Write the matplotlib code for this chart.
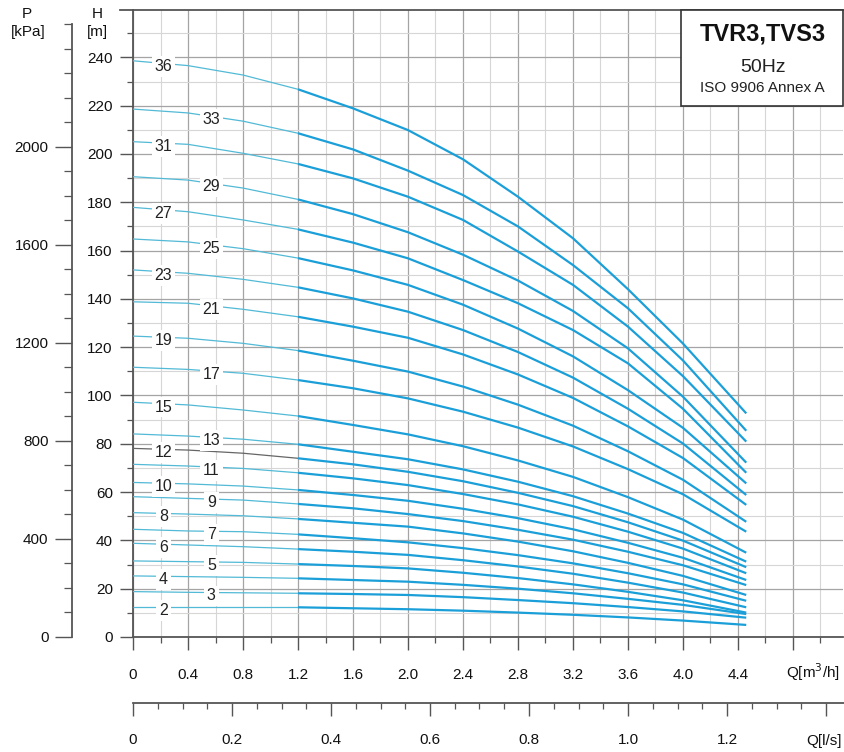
import numpy as np
import matplotlib
matplotlib.use("Agg")
import matplotlib.pyplot as plt
from matplotlib.ticker import MultipleLocator, FixedLocator, FixedFormatter
from matplotlib.patches import Rectangle
from matplotlib.lines import Line2D

plt.rcParams['font.family'] = ['Liberation Sans', 'DejaVu Sans']

# ---------------- data ----------------
flow_m3h = [0, 0.4, 0.8, 1.2, 1.6, 2.0, 2.4, 2.8, 3.2, 3.6, 4.0, 4.46]

head_s36 = [238.6, 236.6, 232.7, 226.8, 218.9, 209.9, 197.8, 182.3, 165.1, 144.0, 121.5, 92.6]
head_s33 = [218.6, 217.0, 213.6, 208.6, 201.9, 193.1, 183.0, 170.0, 154.0, 136.1, 114.5, 85.4]
head_s31 = [205.1, 204.0, 200.3, 195.9, 189.9, 182.3, 172.7, 159.6, 145.8, 128.5, 108.0, 80.9]
head_s29 = [190.6, 189.2, 185.9, 181.2, 175.1, 167.6, 158.3, 147.6, 135.0, 119.5, 99.5, 72.2]
head_s27 = [177.9, 176.1, 172.7, 168.8, 163.3, 156.8, 147.8, 138.2, 127.1, 113.3, 94.5, 68.0]
head_s25 = [164.8, 163.6, 160.8, 156.9, 151.8, 145.8, 137.6, 127.7, 116.2, 102.2, 86.6, 63.6]
head_s23 = [152.0, 150.6, 148.1, 144.8, 140.2, 134.7, 127.1, 118.0, 107.4, 94.5, 80.1, 58.8]
head_s21 = [138.8, 138.2, 135.7, 132.6, 128.5, 123.9, 117.0, 108.7, 99.0, 87.2, 74.1, 54.7]
head_s19 = [124.6, 123.7, 121.6, 118.6, 114.4, 109.9, 103.7, 96.2, 87.5, 76.9, 65.1, 47.7]
head_s17 = [111.7, 110.8, 109.2, 106.4, 103.0, 98.8, 93.3, 86.7, 78.9, 69.5, 59.1, 43.6]
head_s15 = [97.2, 96.1, 94.0, 91.5, 87.8, 83.9, 79.0, 73.1, 66.3, 57.9, 48.6, 34.9]
head_s13 = [84.1, 83.2, 81.9, 79.8, 76.7, 73.6, 69.4, 64.3, 58.3, 51.1, 43.1, 31.2]
head_s12 = [78.1, 77.4, 76.1, 74.0, 71.5, 68.4, 64.5, 59.7, 54.2, 47.5, 39.9, 28.9]
head_s11 = [71.5, 70.8, 69.8, 68.0, 65.7, 62.9, 59.2, 54.9, 49.8, 43.6, 36.6, 26.4]
head_s10 = [64.0, 63.4, 62.5, 60.9, 58.8, 56.4, 53.1, 49.2, 44.6, 39.0, 32.8, 23.6]
head_s9 = [58.1, 57.4, 56.7, 55.1, 53.3, 50.9, 48.0, 44.4, 40.3, 35.3, 29.7, 21.5]
head_s8 = [51.5, 50.9, 50.2, 48.9, 47.3, 45.7, 42.9, 39.5, 35.5, 30.7, 25.3, 17.4]
head_s7 = [44.6, 43.9, 43.6, 42.5, 40.9, 39.2, 36.8, 33.9, 30.5, 26.4, 21.8, 15.0]
head_s6 = [38.8, 38.1, 37.4, 36.4, 35.3, 34.0, 31.8, 29.2, 26.2, 22.5, 18.4, 12.3]
head_s5 = [31.5, 31.2, 30.9, 30.2, 29.4, 28.4, 26.6, 24.4, 21.8, 18.7, 15.2, 10.1]
head_s4 = [25.3, 25.0, 24.7, 24.3, 23.6, 22.9, 21.6, 20.0, 18.1, 15.8, 13.3, 9.5]
head_s3 = [18.8, 18.5, 18.3, 18.1, 17.8, 17.4, 16.5, 15.3, 14.0, 12.4, 10.6, 8.0]
head_s2 = [12.3, 12.3, 12.3, 12.3, 11.9, 11.5, 10.9, 10.1, 9.2, 8.1, 6.8, 5.0]

stage_labels = ['36', '33', '31', '29', '27', '25', '23', '21', '19', '17', '15',
                '13', '12', '11', '10', '9', '8', '7', '6', '5', '4', '3', '2']
head_curves = [head_s36, head_s33, head_s31, head_s29, head_s27, head_s25, head_s23,
               head_s21, head_s19, head_s17, head_s15, head_s13, head_s12, head_s11,
               head_s10, head_s9, head_s8, head_s7, head_s6, head_s5, head_s4,
               head_s3, head_s2]

x_tick_labels = ['0', '0.4', '0.8', '1.2', '1.6', '2.0', '2.4', '2.8', '3.2', '3.6', '4.0', '4.4', '']
h_tick_labels = ['0', '20', '40', '60', '80', '100', '120', '140', '160', '180', '200', '220', '240']
p_tick_labels = ['0', '400', '800', '1200', '1600', '2000']
ls_tick_labels = ['0', '0.2', '0.4', '0.6', '0.8', '1.0', '1.2', '']

# ---------------- layout ----------------
W, H = 845, 752
fig = plt.figure(figsize=(W / 100, H / 100), dpi=100)

def fx(px):
    return px / W

def fy(py):
    return 1 - py / H

px_per_q = 137.5
px_per_m = 2.415
x0, y0 = 133, 637
x_right = 843
y_top = 10
xmax = (x_right - x0) / px_per_q
ymax = (y0 - y_top) / px_per_m
fs = 11

ax = fig.add_axes([fx(x0), fy(y0), (x_right - x0) / W, (y0 - y_top) / H])
ax.set_xlim(0, xmax)
ax.set_ylim(0, ymax)

axis_col = '#555555'
ax.spines['right'].set_visible(False)
for s in ['left', 'bottom', 'top']:
    ax.spines[s].set_color(axis_col)
    ax.spines[s].set_linewidth(1.3)

ax.xaxis.set_major_locator(FixedLocator([0.4 * i for i in range(13)]))
ax.xaxis.set_major_formatter(FixedFormatter(x_tick_labels))
ax.xaxis.set_minor_locator(MultipleLocator(0.2))
ax.yaxis.set_major_locator(FixedLocator([20 * i for i in range(13)]))
ax.yaxis.set_major_formatter(FixedFormatter(h_tick_labels))
ax.yaxis.set_minor_locator(MultipleLocator(10))

ax.tick_params(axis='both', which='major', length=9.5, width=1.0, color=axis_col,
               labelsize=fs, labelcolor='#111111')
ax.tick_params(axis='both', which='minor', length=4.5, width=0.9, color=axis_col)
ax.tick_params(axis='x', which='major', pad=13)
ax.tick_params(axis='y', which='major', pad=5)

ax.grid(which='major', color='#a4a4a4', linewidth=0.9)
ax.grid(which='minor', color='#d6d6d6', linewidth=0.8)
ax.set_axisbelow(True)

# extension of top border to the left (like a major tick at the top)
ax.add_line(Line2D([-13 / (x_right - x0), 0], [1, 1], transform=ax.transAxes,
                   color=axis_col, lw=1.3, clip_on=False))

# ---------------- curves ----------------
thin_col = '#52bad6'
thick_col = '#1b9fd8'
q = np.array(flow_m3h)
split = 3  # index of Q = 1.2
for lab, hv in zip(stage_labels, head_curves):
    hv = np.array(hv)
    tc = '#666666' if lab == '12' else thin_col
    ax.plot(q[:split + 1], hv[:split + 1], color=tc, lw=0.9, zorder=3,
            solid_capstyle='butt', solid_joinstyle='round')
    ax.plot(q[split:], hv[split:], color=thick_col, lw=1.6, zorder=3,
            solid_capstyle='butt', solid_joinstyle='round')

left_set = {'36', '31', '27', '23', '19', '15', '12', '10', '8', '6', '4', '2'}
for lab, hv in zip(stage_labels, head_curves):
    ql = 0.22 if lab in left_set else 0.57
    yl = np.interp(ql, q, hv) - 1.4
    ax.text(ql, yl, lab, ha='center', va='center', fontsize=11.5, color='#222222',
            zorder=4, bbox=dict(boxstyle='square,pad=0.18', fc='white', ec='none'))

# ---------------- title box ----------------
box = Rectangle((fx(681), fy(106)), fx(843) - fx(681), fy(10) - fy(106),
                transform=fig.transFigure, facecolor='white', edgecolor='#333333',
                lw=1.2, zorder=10, clip_on=False)
ax.add_patch(box)
ax.text(fx(763), fy(34), 'TVR3,TVS3', transform=fig.transFigure, ha='center',
        va='center', fontsize=17, fontweight='bold', color='#111111', zorder=11)
ax.text(fx(763), fy(67), '50Hz', transform=fig.transFigure, ha='center',
        va='center', fontsize=14, color='#222222', zorder=11)
ax.text(fx(762), fy(88), 'ISO 9906 Annex A', transform=fig.transFigure, ha='center',
        va='center', fontsize=11, color='#222222', zorder=11)

# ---------------- pressure axis ----------------
kpa_per_m = 9.857
axp = fig.add_axes([fx(72), fy(y0), 0.0001, (y0 - y_top) / H])
axp.set_ylim(0, ymax * kpa_per_m)
for s in ['right', 'top', 'bottom']:
    axp.spines[s].set_visible(False)
axp.spines['left'].set_color(axis_col)
axp.spines['left'].set_linewidth(1.3)
axp.spines['left'].set_bounds(0, 2500)
axp.set_xticks([])
axp.yaxis.set_major_locator(FixedLocator([400 * i for i in range(6)]))
axp.yaxis.set_major_formatter(FixedFormatter(p_tick_labels))
axp.yaxis.set_minor_locator(FixedLocator([100 * i for i in range(26)]))
axp.tick_params(axis='y', which='major', length=12, width=1.0, color=axis_col,
                labelsize=fs, labelcolor='#111111', pad=5)
axp.tick_params(axis='y', which='minor', length=6, width=0.9, color=axis_col)
axp.patch.set_visible(False)

# ---------------- l/s axis ----------------
ls_right = 845
axl = fig.add_axes([fx(x0), fy(703), (ls_right - x0) / W, 0.0001])
axl.set_xlim(0, (ls_right - x0) / px_per_q / 3.6)
for s in ['right', 'top', 'left']:
    axl.spines[s].set_visible(False)
axl.spines['bottom'].set_color(axis_col)
axl.spines['bottom'].set_linewidth(1.3)
axl.set_yticks([])
axl.xaxis.set_major_locator(FixedLocator([0.2 * i for i in range(8)]))
axl.xaxis.set_major_formatter(FixedFormatter(ls_tick_labels))
axl.xaxis.set_minor_locator(MultipleLocator(0.05))
axl.tick_params(axis='x', which='major', length=9.5, width=1.0, color=axis_col,
                labelsize=fs, labelcolor='#111111', pad=12)
axl.tick_params(axis='x', which='minor', length=4.5, width=0.9, color=axis_col)
axl.patch.set_visible(False)

# ---------------- axis titles ----------------
fig.text(fx(27), fy(14), 'P', ha='center', va='center', fontsize=fs, color='#111111')
fig.text(fx(28), fy(32), '[kPa]', ha='center', va='center', fontsize=fs, color='#111111')
fig.text(fx(97), fy(14), 'H', ha='center', va='center', fontsize=fs, color='#111111')
fig.text(fx(97), fy(32), '[m]', ha='center', va='center', fontsize=fs, color='#111111')
fig.text(fx(813), fy(672), 'Q[m$^3$/h]', ha='center', va='center', fontsize=fs, color='#111111')
fig.text(fx(824), fy(741), 'Q[l/s]', ha='center', va='center', fontsize=fs, color='#111111')

fig.savefig('out.png', dpi=100)
